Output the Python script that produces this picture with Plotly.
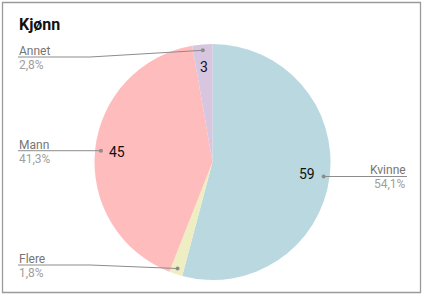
import math
import plotly.graph_objects as go

# ---- data ----
labels = ["Kvinne", "Flere", "Mann", "Annet"]
values = [59, 2, 45, 3]
colors = ["#b9d8e0", "#eeeec2", "#ffbcbd", "#d8c5e0"]
title_text = "Kjønn"

# ---- layout constants (pixels) ----
W, H = 424, 296
CX, CY, R = 212.5, 162.0, 118.0
LEFT_X, BEND_X, RIGHT_X, RIGHT_BEND = 18, 90, 407, 345
Y_MIN, Y_MAX = 57, 265
MIN_VALUE_PCT = 2.0  # slices smaller than this get no inside value label
FONT = "Roboto"

def px(x):
    return x / W

def py(y):
    return 1 - y / H

total = sum(values)
pcts = [v / total * 100 for v in values]
pct_text = [f"{p:.1f}".replace(".", ",") + "%" for p in pcts]

fig = go.Figure()
fig.add_trace(go.Pie(
    labels=labels, values=values, sort=False, direction="clockwise", rotation=0,
    marker=dict(colors=colors, line=dict(width=0)),
    textinfo="none", hoverinfo="label+value+percent", showlegend=False,
    domain=dict(x=[px(CX - R), px(CX + R)], y=[py(CY + R), py(CY - R)]),
))

annotations = []
shapes = []

# border
shapes.append(dict(type="rect", xref="paper", yref="paper",
                   x0=px(2.5), x1=px(420.5), y0=py(292.5), y1=py(2.5),
                   line=dict(color="#9a9a9a", width=1.3), fillcolor="rgba(0,0,0,0)"))

annotations.append(dict(text="<b>" + title_text + "</b>", x=px(17), y=py(25),
                        xref="paper", yref="paper", xanchor="left", yanchor="middle",
                        showarrow=False, font=dict(family=FONT, size=16, color="#111")))

cum = 0.0
for lab, v, p, pt in zip(labels, values, pcts, pct_text):
    mid = (cum + v / 2) / total * 2 * math.pi
    cum += v
    sx, sy = math.sin(mid), -math.cos(mid)
    # value label
    if p >= MIN_VALUE_PCT:
        vx, vy = CX + 0.81 * R * sx, CY + 0.81 * R * sy
        annotations.append(dict(text=str(v), x=px(vx), y=py(vy), xref="paper", yref="paper",
                                xanchor="center", yanchor="middle", showarrow=False,
                                font=dict(family=FONT, size=14, color="#111")))
    # leader dot
    dx, dy = CX + 0.95 * R * sx, CY + 0.95 * R * sy
    ly = min(max(dy, Y_MIN), Y_MAX)
    if sx >= 0:
        path = f"M {px(dx)},{py(dy)} L {px(RIGHT_BEND)},{py(ly)} L {px(RIGHT_X)},{py(ly)}"
        tx, anchor = RIGHT_X, "right"
    else:
        path = f"M {px(dx)},{py(dy)} L {px(BEND_X)},{py(ly)} L {px(LEFT_X)},{py(ly)}"
        tx, anchor = LEFT_X, "left"
    shapes.append(dict(type="path", xref="paper", yref="paper", path=path,
                       line=dict(color="#8c8c8c", width=1)))
    shapes.append(dict(type="circle", xref="paper", yref="paper",
                       x0=px(dx - 2), x1=px(dx + 2), y0=py(dy + 2), y1=py(dy - 2),
                       fillcolor="#8c8c8c", line=dict(width=0)))
    annotations.append(dict(text=lab, x=px(tx), y=py(ly + 2), xref="paper", yref="paper",
                            xanchor=anchor, yanchor="bottom", showarrow=False, borderpad=0,
                            font=dict(family=FONT, size=12, color="#757575")))
    annotations.append(dict(text=pt, x=px(tx), y=py(ly), xref="paper", yref="paper",
                            xanchor=anchor, yanchor="top", showarrow=False, borderpad=0,
                            font=dict(family=FONT, size=12, color="#a0a0a0")))

fig.update_layout(
    width=W, height=H, margin=dict(l=0, r=0, t=0, b=0),
    paper_bgcolor="white", plot_bgcolor="white",
    annotations=annotations, shapes=shapes,
)

fig.write_html("out.html")
